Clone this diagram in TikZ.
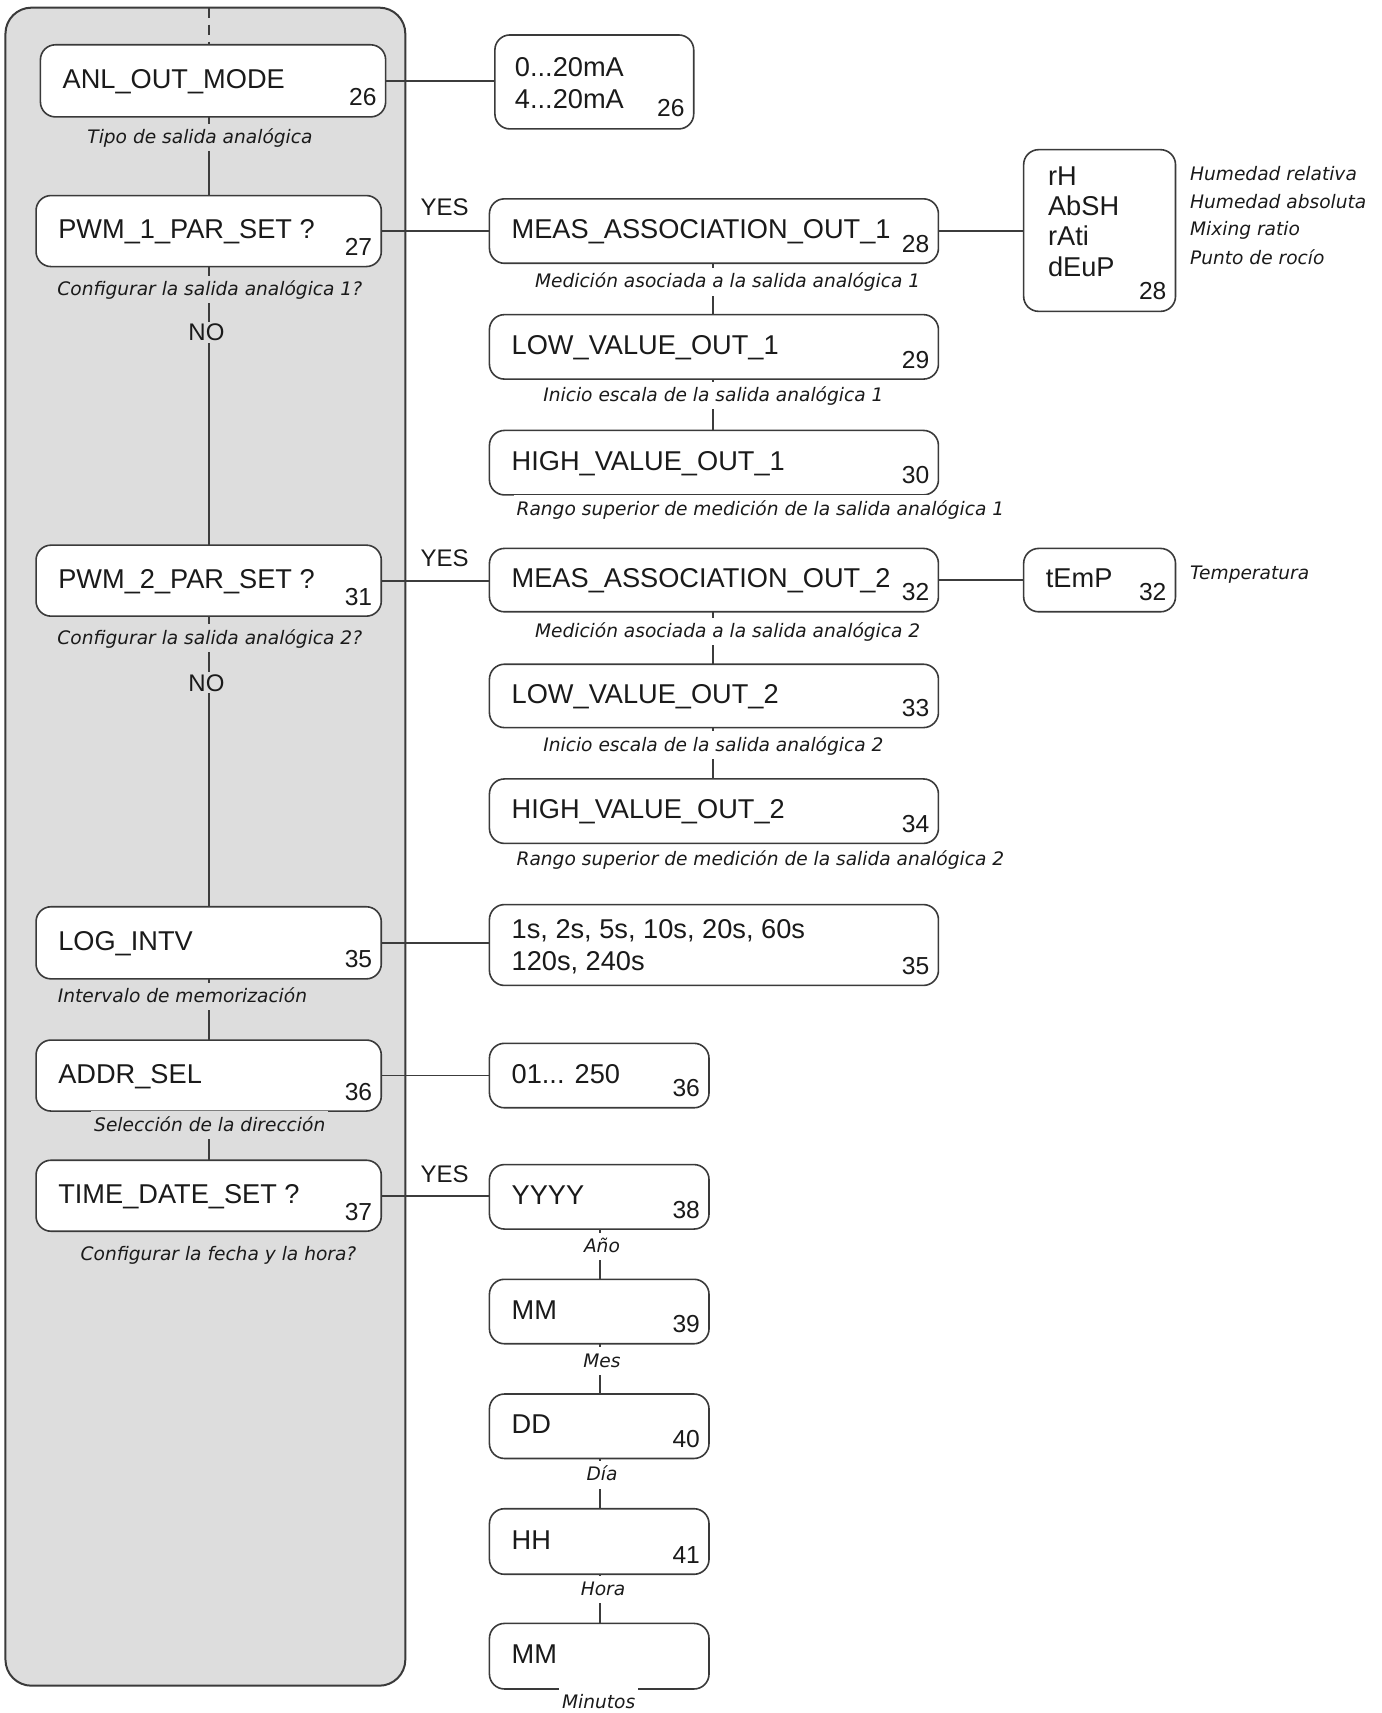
\documentclass[tikz,border=0pt]{standalone}
\usepackage{fontspec}
\setmainfont{Liberation Sans}
\newfontfamily\capf{DejaVu Sans}
\usetikzlibrary{calc}
\definecolor{panelc}{HTML}{DDDDDD}
\definecolor{boxc}{HTML}{3A3A3A}
\definecolor{linec}{HTML}{3C3C3C}
\definecolor{txtc}{HTML}{1A1A1A}
\tikzset{
 panelbox/.style={draw=boxc, line width=1pt, fill=panelc, rounded corners=13pt, inner sep=0pt, outer sep=0pt},
 rbox/.style={draw=boxc, line width=0.8pt, fill=white, rounded corners=7.5pt, inner sep=0pt, outer sep=0pt},
 maintxt/.style={inner sep=0pt, font=\fontsize{13.6}{16}\selectfont, text=txtc},
 numtxt/.style={inner sep=0pt, font=\fontsize{12.3}{14}\selectfont, text=txtc},
 captxt/.style={inner sep=1.5pt, text height=1.6ex, text depth=0.45ex, font=\capf\itshape\fontsize{9.3}{11}\selectfont, text=txtc},
 capl/.style={captxt, fill=panelc},
 capr/.style={captxt, fill=white},
 capside/.style={captxt, anchor=base west, inner sep=0pt},
 conn/.style={draw=linec, line width=0.9pt},
 yn/.style={inner sep=1pt, font=\fontsize{12}{14}\selectfont, text=txtc},
}
% empty box: name x1 y1 x2 y2
\newcommand{\ebx}[5]{%
 \node[rbox, minimum width={(#4-#2)*0.54625pt}, minimum height={(#5-#3)*0.54625pt}] (#1) at ({(#2+#4)/2},{(#3+#5)/2}) {};}
% box with one-line text and number: name x1 y1 x2 y2 text num
\newcommand{\bx}[7]{%
 \ebx{#1}{#2}{#3}{#4}{#5}
 \node[maintxt, anchor=base west] (#1-t) at ({#2+20},{(#3+#5)/2+7}) {#6};
 \node[numtxt, anchor=base east] (#1-n) at ({#4-8},{#5-10}) {#7};}
\begin{document}
\begin{tikzpicture}[x=0.54625pt, y=-0.54625pt]
\useasboundingbox (0,0) rectangle (1265,1568);
% panel
\node[panelbox, minimum width={366*0.54625pt}, minimum height={1536*0.54625pt}] (panel) at (188,775) {};
\coordinate (sp) at (191,0);
\coordinate (spr) at (653,0);
\coordinate (spd) at (549,0);

% left column
\bx{anl}{37}{41}{353}{107}{ANL\_OUT\_MODE}{26}
\bx{pwm1}{33}{179}{349}{244}{PWM\_1\_PAR\_SET ?}{27}
\bx{pwm2}{33}{499}{349}{564}{PWM\_2\_PAR\_SET ?}{31}
\bx{logi}{33}{830}{349}{896}{LOG\_INTV}{35}
\bx{addr}{33}{952}{349}{1017}{ADDR\_SEL}{36}
\bx{tds}{33}{1062}{349}{1127}{TIME\_DATE\_SET ?}{37}

% right column
\ebx{rng}{453}{32}{635}{118}
\node[maintxt, anchor=base west] (rng-a) at (471,70) {0...20mA};
\node[maintxt, anchor=base west] (rng-b) at (471,99) {4...20mA};
\node[numtxt, anchor=base east] (rng-n) at (627,107) {26};

\bx{meas1}{448}{182}{859}{241}{MEAS\_ASSOCIATION\_OUT\_1}{28}
\ebx{rh}{937}{137}{1076}{285}
\node[maintxt, anchor=base west] (rh-a) at (959,170) {rH};
\node[maintxt, anchor=base west] (rh-b) at (959,197) {AbSH};
\node[maintxt, anchor=base west] (rh-c) at (959,225) {rAti};
\node[maintxt, anchor=base west] (rh-d) at (959,253) {dEuP};
\node[numtxt, anchor=base east] (rh-n) at (1068,274) {28};
\bx{low1}{448}{288}{859}{347}{LOW\_VALUE\_OUT\_1}{29}
\bx{high1}{448}{394}{859}{453}{HIGH\_VALUE\_OUT\_1}{30}

\bx{meas2}{448}{502}{859}{560}{MEAS\_ASSOCIATION\_OUT\_2}{32}
\bx{temp}{937}{502}{1076}{560}{tEmP}{32}
\bx{low2}{448}{608}{859}{666}{LOW\_VALUE\_OUT\_2}{33}
\bx{high2}{448}{713}{859}{772}{HIGH\_VALUE\_OUT\_2}{34}

\ebx{logv}{448}{828}{859}{902}
\node[maintxt, anchor=base west] (logv-a) at (468,859) {1s, 2s, 5s, 10s, 20s, 60s};
\node[maintxt, anchor=base west] (logv-b) at (468,888) {120s, 240s};
\node[numtxt, anchor=base east] (logv-n) at (851,892) {35};

\bx{addrv}{448}{955}{649}{1014}{01... 250}{36}
\bx{yy}{448}{1066}{649}{1125}{YYYY}{38}
\bx{mo}{448}{1171}{649}{1230}{MM}{39}
\bx{dd}{448}{1276}{649}{1335}{DD}{40}
\bx{hh}{448}{1381}{649}{1441}{HH}{41}
\bx{mi}{448}{1486}{649}{1546}{MM}{}

% connectors: spine
\draw[conn, dash pattern=on 5pt off 3.5pt] (sp |- panel.north) -- (sp |- anl.north);
\draw[conn] (sp |- anl.south) -- (sp |- pwm1.north);
\draw[conn] (sp |- pwm1.south) -- (sp |- pwm2.north);
\draw[conn] (sp |- pwm2.south) -- (sp |- logi.north);
\draw[conn] (sp |- logi.south) -- (sp |- addr.north);
\draw[conn] (sp |- addr.south) -- (sp |- tds.north);
% horizontals
\draw[conn] (anl.east) -- (anl.east -| rng.west);
\draw[conn] (pwm1.east) -- (pwm1.east -| meas1.west);
\draw[conn] (meas1.east) -- (meas1.east -| rh.west);
\draw[conn] (pwm2.east) -- (pwm2.east -| meas2.west);
\draw[conn] (meas2.east) -- (meas2.east -| temp.west);
\draw[conn] (logi.east) -- (logi.east -| logv.west);
\draw[conn] (addr.east) -- (addr.east -| addrv.west);
\draw[conn] (tds.east) -- (tds.east -| yy.west);
% right verticals
\draw[conn] (spr |- meas1.south) -- (spr |- low1.north);
\draw[conn] (spr |- low1.south) -- (spr |- high1.north);
\draw[conn] (spr |- meas2.south) -- (spr |- low2.north);
\draw[conn] (spr |- low2.south) -- (spr |- high2.north);
\draw[conn] (spd |- yy.south) -- (spd |- mo.north);
\draw[conn] (spd |- mo.south) -- (spd |- dd.north);
\draw[conn] (spd |- dd.south) -- (spd |- hh.north);
\draw[conn] (spd |- hh.south) -- (spd |- mi.north);

% YES / NO
\node[yn] (yes1) at (407,190) {YES};
\node[yn] (yes2) at (407,511) {YES};
\node[yn] (yes3) at (407,1075) {YES};
\node[yn, fill=panelc] (no1) at (189,304) {NO};
\node[yn, fill=panelc] (no2) at (189,625) {NO};

% captions left
\node[capl] (c-anl) at (183,126) {Tipo de salida analógica};
\node[capl] (c-pwm1) at (192,265) {Configurar la salida analógica 1?};
\node[capl] (c-pwm2) at (192,584) {Configurar la salida analógica 2?};
\node[capl] (c-log) at (167,912) {Intervalo de memorización};
\node[capl] (c-addr) at (192,1030) {Selección de la dirección};
\node[capl] (c-tds) at (200,1148) {Configurar la fecha y la hora?};
% captions right
\node[capr] (c-meas1) at (666,258) {Medición asociada a la salida analógica 1};
\node[capr] (c-low1) at (653,362) {Inicio escala de la salida analógica 1};
\node[capr] (c-high1) at (696,466) {Rango superior de medición de la salida analógica 1};
\node[capr] (c-meas2) at (666,578) {Medición asociada a la salida analógica 2};
\node[capr] (c-low2) at (653,682) {Inicio escala de la salida analógica 2};
\node[capr] (c-high2) at (696,787) {Rango superior de medición de la salida analógica 2};
\node[capr] (c-yy) at (551,1141) {Año};
\node[capr] (c-mo) at (551,1246) {Mes};
\node[capr] (c-dd) at (551,1350) {Día};
\node[capr] (c-hh) at (552,1455) {Hora};
\node[capr] (c-mi) at (548,1558) {Minutos};
% side labels
\node[capside] (s-rh) at (1089,165) {Humedad relativa};
\node[capside] (s-ab) at (1089,191) {Humedad absoluta};
\node[capside] (s-mx) at (1089,216) {Mixing ratio};
\node[capside] (s-dp) at (1089,242) {Punto de rocío};
\node[capside] (s-te) at (1089,530) {Temperatura};
\end{tikzpicture}
\end{document}
